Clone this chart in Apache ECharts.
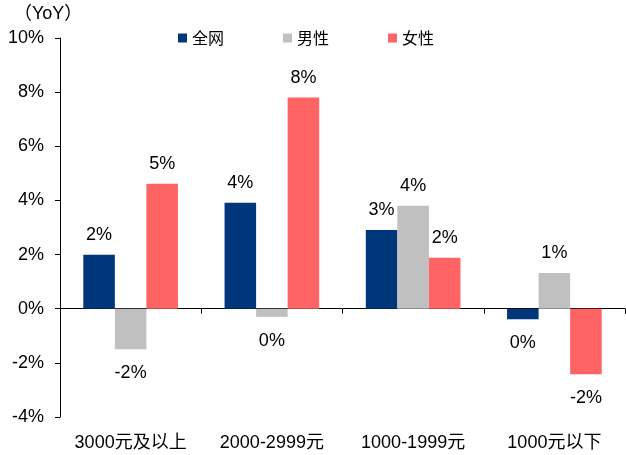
<!DOCTYPE html>
<html>
<head>
<meta charset="utf-8">
<script src="https://cdn.jsdelivr.net/npm/echarts@6/dist/echarts.min.js"></script>
<style>
  html, body { margin: 0; padding: 0; background: #fff; }
  #chart { width: 626px; height: 455px; }
</style>
</head>
<body>
<div id="chart"></div>
<script>
// price bands and YoY growth (%)
const categories = ['3000元及以上', '2000-2999元', '1000-1999元', '1000元以下'];
const allValues = [1.99, 3.91, 2.91, -0.39];
const maleValues = [-1.5, -0.3, 3.8, 1.32];
const femaleValues = [4.62, 7.8, 1.88, -2.42];
const seriesNames = ['全网', '男性', '女性'];
const seriesColors = ['#00377A', '#C0C0C0', '#FF6464'];
const yTicks = { min: -4, max: 10, interval: 2 };

const fontFamily = '"Liberation Sans", Arial, "Noto Sans CJK SC", sans-serif';

function pctLabel(v) {
  const r = Math.round(Math.abs(v));
  return (v < 0 && r > 0 ? '-' : '') + r + '%';
}

function toBarData(values) {
  return values.map(v => ({
    value: v,
    label: {
      position: v < 0 ? 'bottom' : 'top',
      distance: v < 0 ? 15 : 11
    }
  }));
}

const chart = echarts.init(document.getElementById('chart'));

const labelOption = {
  show: true,
  color: '#000',
  fontSize: 18,
  fontFamily: fontFamily,
  formatter: p => pctLabel(p.value)
};

const option = {
  animation: false,
  textStyle: { fontFamily: fontFamily },
  legend: {
    data: seriesNames,
    left: 173,
    top: 25,
    itemWidth: 9,
    itemHeight: 9,
    itemGap: 59,
    icon: 'rect',
    textStyle: { fontSize: 16, color: '#000', fontFamily: '"Noto Sans CJK SC", sans-serif' }
  },
  graphic: [
    {
      type: 'text',
      left: 14,
      top: 5,
      style: { text: '（YoY）', fontSize: 18, fill: '#000', fontFamily: fontFamily }
    }
  ],
  grid: { left: 60, right: 1, top: 38, bottom: 38 },
  xAxis: [
    {
      type: 'category',
      data: categories,
      axisLine: { onZero: true, lineStyle: { color: '#000', width: 1 } },
      axisTick: { show: true, length: 5, lineStyle: { color: '#000' } },
      axisLabel: { show: false }
    },
    {
      type: 'category',
      data: categories,
      position: 'bottom',
      axisLine: { show: false, onZero: false },
      axisTick: { show: false },
      axisLabel: { show: true, interval: 0, margin: 17, fontSize: 18, color: '#000', fontFamily: fontFamily }
    }
  ],
  yAxis: {
    type: 'value',
    min: yTicks.min,
    max: yTicks.max,
    interval: yTicks.interval,
    axisLine: { show: true, lineStyle: { color: '#000', width: 1 } },
    axisTick: { show: true, length: 5, lineStyle: { color: '#000' } },
    splitLine: { show: false },
    axisLabel: {
      margin: 16,
      fontSize: 18,
      color: '#000',
      fontFamily: fontFamily,
      formatter: v => v + '%'
    }
  },
  series: [
    {
      name: seriesNames[0],
      type: 'bar',
      xAxisIndex: 0,
      barGap: 0,
      barCategoryGap: '33%',
      itemStyle: { color: seriesColors[0] },
      label: labelOption,
      data: toBarData(allValues)
    },
    {
      name: seriesNames[1],
      type: 'bar',
      xAxisIndex: 0,
      itemStyle: { color: seriesColors[1] },
      label: labelOption,
      data: toBarData(maleValues)
    },
    {
      name: seriesNames[2],
      type: 'bar',
      xAxisIndex: 0,
      itemStyle: { color: seriesColors[2] },
      label: labelOption,
      data: toBarData(femaleValues)
    }
  ]
};

chart.setOption(option);
</script>
</body>
</html>
